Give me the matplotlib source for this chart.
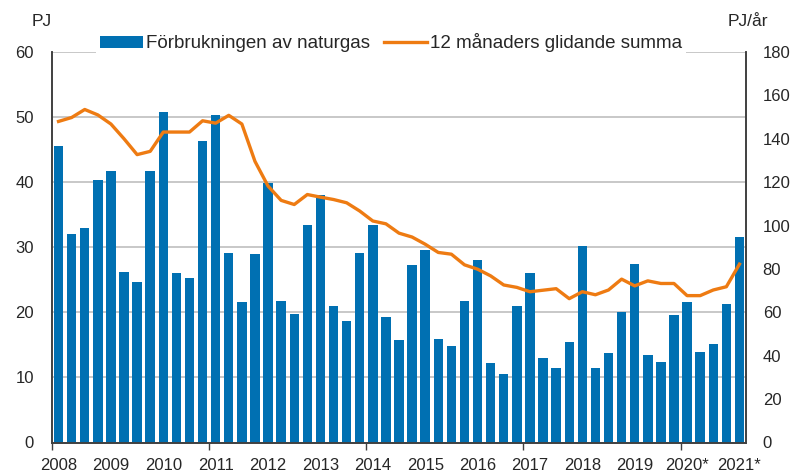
import numpy as np
from matplotlib import pyplot as plt

plt.rcParams["font.family"] = ["Liberation Sans", "DejaVu Sans"]

# Quarterly consumption of natural gas, PJ (2008 Q1 .. 2021 Q1)
quarterly = [
    45.6, 32.1, 32.9, 40.3,
    41.7, 26.2, 24.7, 41.7,
    50.8, 26.0, 25.3, 46.3,
    50.3, 29.1, 21.6, 28.9,
    39.9, 21.8, 19.8, 33.4,
    38.0, 21.0, 18.6, 29.1,
    33.4, 19.3, 15.7, 27.2,
    29.6, 15.9, 14.9, 21.8,
    28.1, 12.2, 10.5, 21.0,
    26.0, 13.0, 11.5, 15.4,
    30.2, 11.5, 13.7, 20.1,
    27.4, 13.5, 12.4, 19.6,
    21.6, 13.9, 15.2, 21.3,
    31.6,
]

# 12-month rolling sum, PJ/year
rolling = [
    148.0, 149.8, 153.5, 151.0,
    146.8, 140.0, 132.7, 134.2,
    143.1, 143.1, 143.1, 148.3,
    147.2, 150.8, 146.8, 129.6,
    118.2, 111.6, 109.7, 114.3,
    113.1, 112.0, 110.5, 106.7,
    102.1, 100.8, 96.5, 94.7,
    91.4, 87.6, 86.8, 81.9,
    79.9, 76.8, 72.6, 71.5,
    69.5, 70.2, 70.9, 66.3,
    69.5, 68.1, 70.3, 75.3,
    72.2, 74.5, 73.3, 73.3,
    67.7, 67.7, 70.3, 71.8,
    82.2,
]

year_labels = ["2008", "2009", "2010", "2011", "2012", "2013", "2014",
               "2015", "2016", "2017", "2018", "2019", "2020*", "2021*"]

blue = "#0070B2"
orange = "#EE7B12"
text_col = "#262626"
grid_col = "#BFBFBF"
spine_col = "#404040"

fig = plt.figure(figsize=(7.96, 4.72), dpi=100)
ax1 = fig.add_axes([52 / 796, 1 - 442.5 / 472, 694 / 796, 390.5 / 472])
ax2 = ax1.twinx()

x = np.arange(len(quarterly))
bars = ax1.bar(x, quarterly, width=0.72, color=blue, zorder=2,
               label="Förbrukningen av naturgas")
line, = ax2.plot(x, rolling, color=orange, lw=2.4, solid_joinstyle="round",
                 label="12 månaders glidande summa")

ax1.set_xlim(-0.5, len(quarterly) - 0.5)
ax1.set_ylim(0, 60)
ax2.set_ylim(0, 180)
ax1.set_yticks(np.arange(0, 61, 10))
ax2.set_yticks(np.arange(0, 181, 20))

ax1.yaxis.grid(True, color=grid_col, lw=1.2, zorder=0)
ax1.set_axisbelow(True)

# Major ticks every third year (no label), year labels under each Q1 bar
ax1.set_xticks(np.arange(0, len(quarterly), 12) - 0.5)
ax1.set_xticklabels([])
ax1.set_xticks(np.arange(0, len(quarterly), 4), minor=True)
ax1.set_xticklabels(year_labels, minor=True)
ax1.tick_params(axis="x", which="major", length=5, width=1, color=spine_col)
ax1.tick_params(axis="x", which="minor", length=0, pad=11,
                labelsize=12, labelcolor=text_col)
ax1.tick_params(axis="y", length=0, pad=13, labelsize=12, labelcolor=text_col)
ax2.tick_params(axis="y", length=0, pad=12, labelsize=12, labelcolor=text_col)

for ax in (ax1, ax2):
    ax.spines["top"].set_visible(False)
    for side in ("left", "right", "bottom"):
        ax.spines[side].set_color(spine_col)
        ax.spines[side].set_linewidth(1.2)

fig.text(42 / 796, 1 - 21 / 472, "PJ", fontsize=12.5, color=text_col,
         ha="center", va="center")
fig.text(748 / 796, 1 - 22 / 472, "PJ/år", fontsize=12.5, color=text_col,
         ha="center", va="center")

leg = ax2.legend([bars, line], [bars.get_label(), line.get_label()],
                 ncol=2, loc="center", bbox_to_anchor=(391 / 796, 1 - 43 / 472),
                 bbox_transform=fig.transFigure, fontsize=13.5, frameon=True,
                 handlelength=2.3, handleheight=0.6, handletextpad=0.2,
                 columnspacing=0.7, borderpad=0.2, borderaxespad=0)
leg.get_frame().set_facecolor("white")
leg.get_frame().set_edgecolor("none")
leg.get_frame().set_alpha(1)
for t in leg.get_texts():
    t.set_color(text_col)

fig.savefig("out.png", dpi=100)
